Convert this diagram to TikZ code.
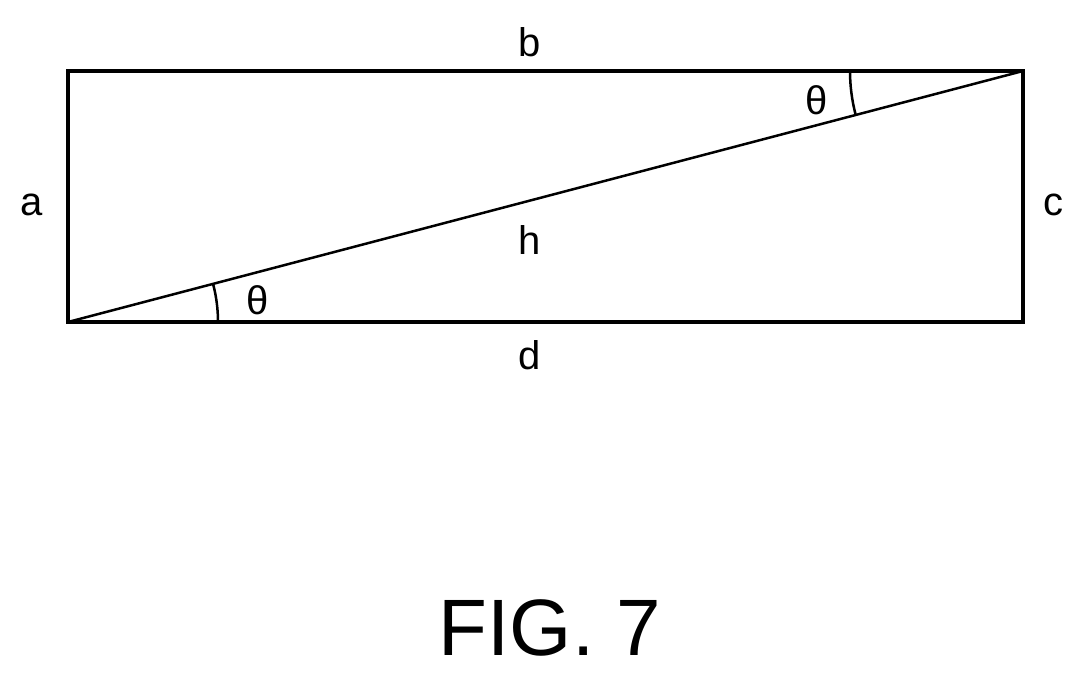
\documentclass[tikz,border=0pt]{standalone}
\usepackage{fontspec}
\setmainfont{Liberation Sans}
\begin{document}
\begin{tikzpicture}[x=1pt,y=-1pt,line width=3.5pt]
	\useasboundingbox (0,0) rectangle (1087,682);
	\begin{scope}[every node/.style={font=\fontsize{40}{40}\selectfont}]
	\node (lb) at (530,42) {b};
	\node (la) at (32,205) {a};
	\node (lc) at (1053,205) {c};
	\node (lh) at (530,240) {h};
	\node (ld) at (530,355) {d};
	\node (t1) at (258,300) {θ};
	\node (t2) at (817,100) {θ};
	\end{scope}
	\coordinate (A) at (68,322);
	\coordinate (B) at (68,71);
	\coordinate (C) at (1023,71);
	\coordinate (D) at (1023,322);
	\draw (A) -- (B) -- (C) -- (D) -- cycle;
	\draw[line width=2.5pt] (A) -- (C);
	\draw[line width=2.5pt] ([xshift=150pt]A) arc (0:-14.7:150);
	\draw[line width=2.5pt] ([xshift=-173pt]C) arc (180:165.3:173);
	\node (fig) at (550,628) {\fontsize{80}{80}\selectfont FIG. 7};
\end{tikzpicture}
\end{document}
